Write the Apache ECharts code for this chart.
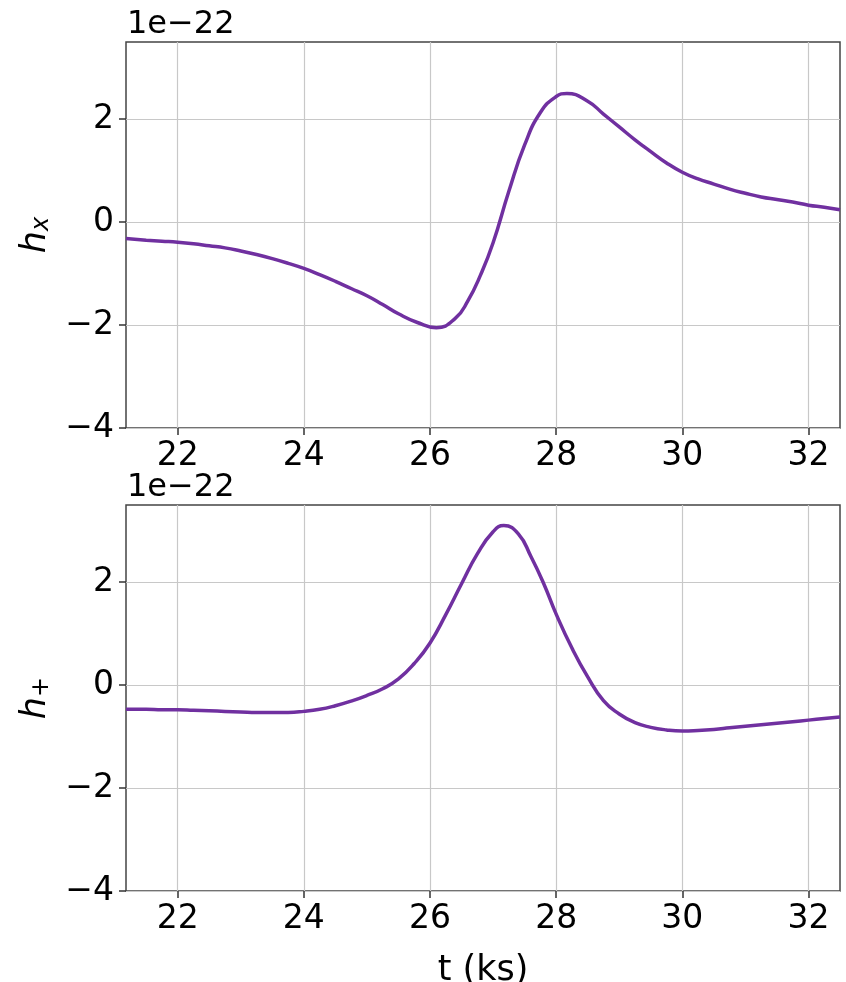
<!DOCTYPE html>
<html>
<head>
<meta charset="utf-8">
<script src="https://cdn.jsdelivr.net/npm/echarts@6/dist/echarts.min.js"></script>
<style>
  html, body { margin: 0; padding: 0; background: #fff; }
  #chart { width: 846px; height: 982px; }
</style>
</head>
<body>
<div id="chart"></div>
<script>
// h_x (cross polarisation), units of 1e-22
const tCross = [21.18, 21.5, 21.75, 22, 22.25, 22.5, 22.75, 23, 23.25, 23.5, 23.75, 24, 24.25, 24.5, 24.75, 25, 25.25, 25.5, 25.8, 26.1, 26.4, 26.6, 26.8, 27, 27.25, 27.5, 27.75, 28, 28.17, 28.5, 28.75, 29, 29.25, 29.5, 29.75, 30, 30.25, 30.5, 30.75, 31, 31.25, 31.5, 31.75, 32, 32.25, 32.5]
const hCross = [-0.32, -0.35, -0.37, -0.39, -0.42, -0.46, -0.5, -0.56, -0.63, -0.71, -0.8, -0.9, -1.02, -1.15, -1.29, -1.43, -1.6, -1.78, -1.95, -2.05, -1.87, -1.53, -1.03, -0.4, 0.6, 1.5, 2.13, 2.44, 2.5, 2.35, 2.1, 1.85, 1.6, 1.37, 1.15, 0.97, 0.84, 0.74, 0.64, 0.56, 0.49, 0.44, 0.39, 0.33, 0.29, 0.24]

// h_+ (plus polarisation), units of 1e-22
const tPlus = [21.18, 21.5, 21.75, 22, 22.25, 22.5, 22.75, 23, 23.25, 23.5, 23.75, 24, 24.25, 24.5, 24.75, 25, 25.25, 25.5, 25.75, 26, 26.25, 26.5, 26.75, 27, 27.17, 27.4, 27.6, 27.8, 28, 28.25, 28.5, 28.75, 29, 29.25, 29.5, 29.75, 30, 30.25, 30.5, 30.75, 31, 31.25, 31.5, 31.75, 32, 32.25, 32.5]
const hPlus = [-0.47, -0.47, -0.48, -0.48, -0.49, -0.5, -0.51, -0.52, -0.53, -0.53, -0.53, -0.51, -0.47, -0.4, -0.31, -0.2, -0.07, 0.12, 0.42, 0.82, 1.37, 1.97, 2.55, 2.98, 3.1, 2.94, 2.5, 1.98, 1.38, 0.72, 0.16, -0.3, -0.56, -0.73, -0.82, -0.87, -0.89, -0.88, -0.86, -0.83, -0.8, -0.77, -0.74, -0.71, -0.68, -0.65, -0.62]

const xTicks = [22, 24, 26, 28, 30, 32]
const yTicks = [-4, -2, 0, 2]

const FONT = 'DejaVu Sans'
const LINE_COLOR = '#7030a0'

const chart = echarts.init(document.getElementById('chart'))

const makeX = (gridIndex, name) => ({
  type: 'value',
  gridIndex: gridIndex,
  min: 21.18,
  max: 32.5,
  name: name,
  nameLocation: 'middle',
  nameGap: 62,
  nameTextStyle: { fontFamily: FONT, fontSize: 35, color: '#000' },
  axisLine: { show: false, onZero: false },
  axisTick: { show: true, length: 7, customValues: xTicks, lineStyle: { color: '#333', width: 1.5 } },
  axisLabel: { customValues: xTicks, margin: 12, fontFamily: FONT, fontSize: 33, color: '#000' },
  splitLine: { show: true, lineStyle: { color: '#c8c8c8', width: 1.2 } }
})

const makeY = (gridIndex, nameRich) => ({
  type: 'value',
  gridIndex: gridIndex,
  min: -4,
  max: 3.5,
  name: nameRich,
  nameLocation: 'middle',
  nameRotate: 90,
  nameGap: 72,
  nameTextStyle: {
    fontFamily: FONT,
    color: '#000',
    rich: {
      h: { fontFamily: FONT, fontStyle: 'italic', fontSize: 35, color: '#000' },
      s: { fontFamily: FONT, fontStyle: 'italic', fontSize: 24, color: '#000', padding: [12, 0, 0, 0] }
    }
  },
  axisLine: { show: false, onZero: false },
  axisTick: { show: true, length: 7, customValues: yTicks, lineStyle: { color: '#333', width: 1.5 } },
  axisLabel: { customValues: yTicks, margin: 12, fontFamily: FONT, fontSize: 33, color: '#000',
    formatter: v => (v < 0 ? '\u2212' + Math.abs(v) : String(v)) },
  splitLine: { show: true, lineStyle: { color: '#c8c8c8', width: 1.2 } }
})

chart.setOption({
  backgroundColor: '#fff',
  animation: false,
  title: [
    { text: '1e\u221222', left: 122, top: 4, textStyle: { fontFamily: FONT, fontSize: 32, fontWeight: 'normal', color: '#000' } },
    { text: '1e\u221222', left: 122, top: 467, textStyle: { fontFamily: FONT, fontSize: 32, fontWeight: 'normal', color: '#000' } }
  ],
  grid: [
    { left: 126, top: 42, width: 714, height: 386, outerBoundsMode: 'none', show: true, borderColor: '#444', borderWidth: 1.5, backgroundColor: 'transparent' },
    { left: 126, top: 505, width: 714, height: 386, outerBoundsMode: 'none', show: true, borderColor: '#444', borderWidth: 1.5, backgroundColor: 'transparent' }
  ],
  xAxis: [makeX(0, ''), makeX(1, 't (ks)')],
  yAxis: [makeY(0, '{h|h}{s|x}'), makeY(1, '{h|h}{s|+}')],
  series: [
    {
      type: 'line',
      xAxisIndex: 0,
      yAxisIndex: 0,
      data: tCross.map((t, i) => [t, hCross[i]]),
      showSymbol: false,
      smooth: 0.5,
      lineStyle: { color: LINE_COLOR, width: 3.5 }
    },
    {
      type: 'line',
      xAxisIndex: 1,
      yAxisIndex: 1,
      data: tPlus.map((t, i) => [t, hPlus[i]]),
      showSymbol: false,
      smooth: 0.5,
      lineStyle: { color: LINE_COLOR, width: 3.5 }
    }
  ]
})
</script>
</body>
</html>
